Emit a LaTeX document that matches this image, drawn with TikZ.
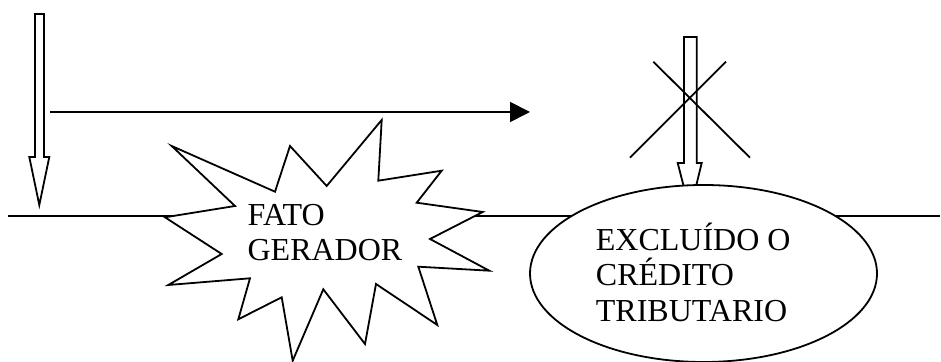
\documentclass[tikz,border=0pt]{standalone}
\usepackage{fontspec}
\setmainfont{Liberation Serif}
\usetikzlibrary{arrows.meta,shapes.geometric}

\begin{document}
\begin{tikzpicture}[x=0.5pt, y=-0.5pt, line width=0.9pt,
  lbl/.style={align=left, inner sep=0pt, font=\fontsize{16}{17.75}\selectfont, anchor=base west}]
\useasboundingbox (0,0) rectangle (941,362);

% base line
\coordinate (bl) at (8,216);
\coordinate (br) at (940,216);
\draw (bl) -- (br);

% left block arrow
\draw[fill=white] (35,14) -- (44,14) -- (44,157) -- (49.3,157) -- (39.3,205) -- (29.3,157) -- (35,157) -- cycle;

% time arrow
\coordinate (hstart) at (50,112);
\coordinate (hend) at (530,112);
\draw[-{Triangle[length=10pt,width=10pt]}] (hstart) -- (hend);

% star
\draw[fill=white] (171.7,146) -- (275,191.7) -- (290,146) -- (326.7,186) -- (381.7,120)
  -- (378.3,180.7) -- (441.7,170.7) -- (416.7,202.7) -- (482.7,212) -- (430,239)
  -- (489.3,270.7) -- (418.3,266.7) -- (437.3,325) -- (376,284) -- (365,344)
  -- (323.3,289.3) -- (292.7,360.7) -- (281.7,297.3) -- (238.3,319.3) -- (250,278.3)
  -- (168.3,285) -- (221.7,254) -- (165,217.3) -- (235,206) -- cycle;
\node[lbl] (fato) at (246.7,261) {FATO\\GERADOR};% last line on base

% crossed arrow
\draw[fill=white] (684,37) -- (696.7,37) -- (696.7,163) -- (701.7,163) -- (690,211) -- (677.7,163) -- (684,163) -- cycle;
\draw (653.3,61.7) -- (750,157.7);
\draw (726,61.7) -- (630,157.7);

% ellipse
\node[ellipse, draw, fill=white, minimum width=173.5pt, minimum height=88.5pt, inner sep=0pt] (ell) at (703.5,273.5) {};
\node[lbl] (excl) at (595,321.5) {EXCLUÍDO O\\CRÉDITO\\TRIBUTARIO};
\end{tikzpicture}
\end{document}
